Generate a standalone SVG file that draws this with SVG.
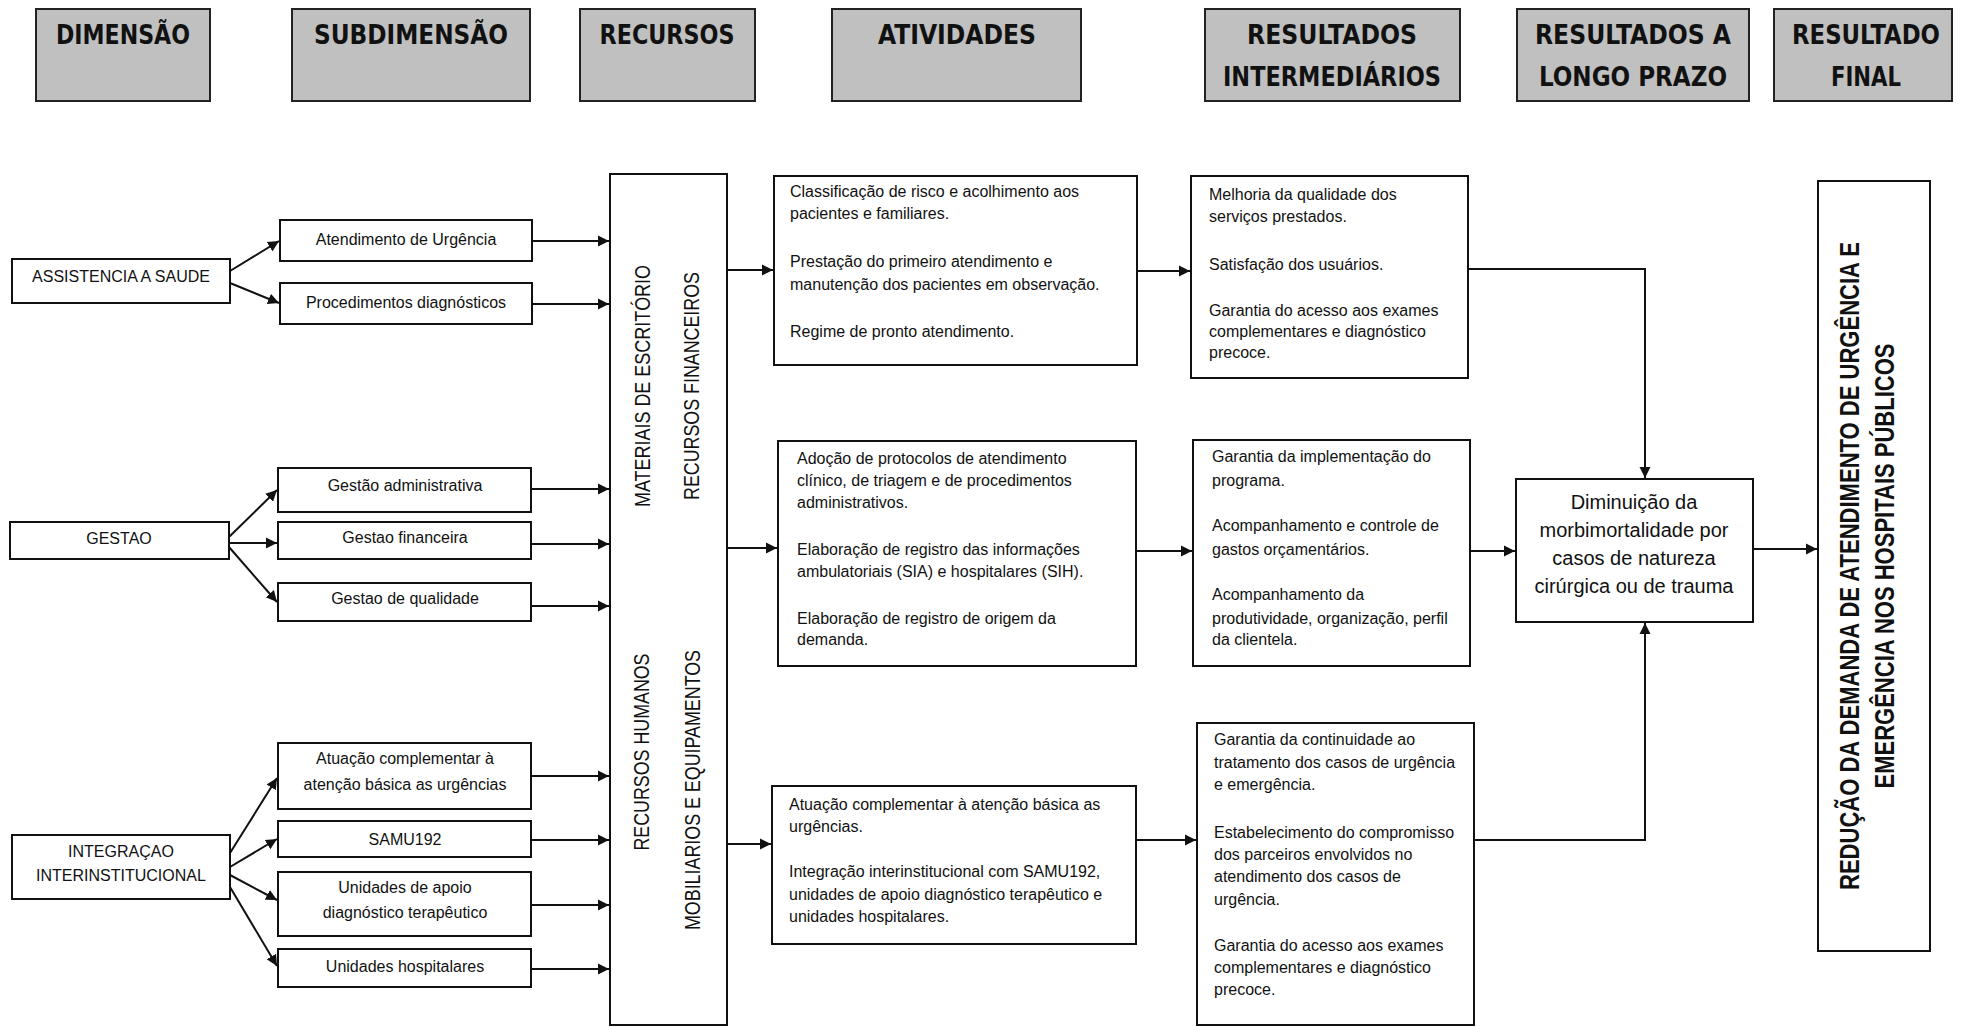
<svg xmlns="http://www.w3.org/2000/svg" width="1970" height="1027" viewBox="0 0 1970 1027">
<style>
.hdr{fill:#c0c0c0;stroke:#222;stroke-width:2}
.box{fill:#fff;stroke:#111;stroke-width:2}
.hd{font-family:"Liberation Sans Narrow","DejaVu Sans Condensed","Liberation Sans",sans-serif;font-weight:bold;font-size:27px;fill:#111;text-anchor:middle}
.t{font-family:"Liberation Sans",Arial,sans-serif;font-size:16px;fill:#111}
.c{text-anchor:middle}
.big{font-size:20px}
.v{font-family:"Liberation Sans",Arial,sans-serif;font-size:22px;fill:#111;text-anchor:middle}
.vb{font-family:"Liberation Sans",Arial,sans-serif;font-size:27px;font-weight:bold;fill:#111;text-anchor:middle}
.con line,.con polyline{stroke:#111;stroke-width:2;fill:none;marker-end:url(#ah)}
</style>
<defs>
<marker id="ah" viewBox="0 0 10 10" refX="10" refY="5" markerWidth="11" markerHeight="12" markerUnits="userSpaceOnUse" orient="auto">
<path d="M0,0 L10,5 L0,10 z" fill="#111"/>
</marker>
</defs>
<rect width="1970" height="1027" fill="#fff"/>

<!-- headers -->
<g id="h-dimensao"><rect class="hdr" x="36" y="9" width="174" height="92"/><text class="hd" x="123" y="44" textLength="134" lengthAdjust="spacingAndGlyphs">DIMENSÃO</text></g>
<g id="h-subdimensao"><rect class="hdr" x="292" y="9" width="238" height="92"/><text class="hd" x="411" y="44" textLength="194" lengthAdjust="spacingAndGlyphs">SUBDIMENSÃO</text></g>
<g id="h-recursos"><rect class="hdr" x="580" y="9" width="175" height="92"/><text class="hd" x="667" y="44" textLength="135" lengthAdjust="spacingAndGlyphs">RECURSOS</text></g>
<g id="h-atividades"><rect class="hdr" x="832" y="9" width="249" height="92"/><text class="hd" x="957" y="44" textLength="158" lengthAdjust="spacingAndGlyphs">ATIVIDADES</text></g>
<g id="h-intermediarios"><rect class="hdr" x="1205" y="9" width="255" height="92"/><text class="hd" x="1332" y="44" textLength="170" lengthAdjust="spacingAndGlyphs">RESULTADOS</text><text class="hd" x="1332" y="86" textLength="218" lengthAdjust="spacingAndGlyphs">INTERMEDIÁRIOS</text></g>
<g id="h-longoprazo"><rect class="hdr" x="1517" y="9" width="232" height="92"/><text class="hd" x="1633" y="44" textLength="196" lengthAdjust="spacingAndGlyphs">RESULTADOS A</text><text class="hd" x="1633" y="86" textLength="188" lengthAdjust="spacingAndGlyphs">LONGO PRAZO</text></g>
<g id="h-final"><rect class="hdr" x="1774" y="9" width="178" height="92"/><text class="hd" x="1866" y="44" textLength="148" lengthAdjust="spacingAndGlyphs">RESULTADO</text><text class="hd" x="1866" y="86" textLength="70" lengthAdjust="spacingAndGlyphs">FINAL</text></g>

<!-- dimensions -->
<g id="d-assistencia"><rect class="box" x="12" y="259" width="218" height="44"/><text class="t c" x="121" y="282">ASSISTENCIA A SAUDE</text></g>
<g id="d-gestao"><rect class="box" x="10" y="522" width="219" height="37"/><text class="t c" x="119" y="544">GESTAO</text></g>
<g id="d-integracao"><rect class="box" x="12" y="835" width="218" height="64"/><text class="t c" x="121" y="857">INTEGRAÇAO</text><text class="t c" x="121" y="881">INTERINSTITUCIONAL</text></g>

<!-- subdimensions -->
<g id="s-atendimento"><rect class="box" x="280" y="220" width="252" height="41"/><text class="t c" x="406" y="245">Atendimento de Urgência</text></g>
<g id="s-procedimentos"><rect class="box" x="280" y="283" width="252" height="41"/><text class="t c" x="406" y="308">Procedimentos diagnósticos</text></g>
<g id="s-gestao-adm"><rect class="box" x="278" y="468" width="253" height="44"/><text class="t c" x="405" y="491">Gestão administrativa</text></g>
<g id="s-gestao-fin"><rect class="box" x="278" y="522" width="253" height="37"/><text class="t c" x="405" y="543">Gestao financeira</text></g>
<g id="s-gestao-qual"><rect class="box" x="278" y="583" width="253" height="38"/><text class="t c" x="405" y="604">Gestao de qualidade</text></g>
<g id="s-atuacao"><rect class="box" x="278" y="743" width="253" height="66"/><text class="t c" x="405" y="764">Atuação complementar à</text><text class="t c" x="405" y="790">atenção básica as urgências</text></g>
<g id="s-samu"><rect class="box" x="278" y="821" width="253" height="36"/><text class="t c" x="405" y="845">SAMU192</text></g>
<g id="s-apoio"><rect class="box" x="278" y="872" width="253" height="64"/><text class="t c" x="405" y="893">Unidades de apoio</text><text class="t c" x="405" y="918">diagnóstico terapêutico</text></g>
<g id="s-hospitalares"><rect class="box" x="278" y="949" width="253" height="38"/><text class="t c" x="405" y="972">Unidades hospitalares</text></g>

<!-- recursos -->
<g id="recursos"><rect class="box" x="610" y="174" width="117" height="851"/>
<text class="v" transform="translate(650,386) rotate(-90)" textLength="242" lengthAdjust="spacingAndGlyphs">MATERIAIS DE ESCRITÓRIO</text>
<text class="v" transform="translate(699,386) rotate(-90)" textLength="228" lengthAdjust="spacingAndGlyphs">RECURSOS FINANCEIROS</text>
<text class="v" transform="translate(649,752) rotate(-90)" textLength="197" lengthAdjust="spacingAndGlyphs">RECURSOS HUMANOS</text>
<text class="v" transform="translate(700,790) rotate(-90)" textLength="280" lengthAdjust="spacingAndGlyphs">MOBILIARIOS E EQUIPAMENTOS</text>
</g>

<!-- activities -->
<g id="a1"><rect class="box" x="774" y="176" width="363" height="189"/>
<text class="t" x="790" y="197">Classificação de risco e acolhimento aos</text>
<text class="t" x="790" y="219">pacientes e familiares.</text>
<text class="t" x="790" y="267">Prestação do primeiro atendimento e</text>
<text class="t" x="790" y="290">manutenção dos pacientes em observação.</text>
<text class="t" x="790" y="337">Regime de pronto atendimento.</text>
</g>
<g id="a2"><rect class="box" x="778" y="441" width="358" height="225"/>
<text class="t" x="797" y="464">Adoção de protocolos de atendimento</text>
<text class="t" x="797" y="486">clínico, de triagem e de procedimentos</text>
<text class="t" x="797" y="508">administrativos.</text>
<text class="t" x="797" y="555">Elaboração de registro das informações</text>
<text class="t" x="797" y="577">ambulatoriais (SIA) e hospitalares (SIH).</text>
<text class="t" x="797" y="624">Elaboração de registro de origem da</text>
<text class="t" x="797" y="645">demanda.</text>
</g>
<g id="a3"><rect class="box" x="772" y="786" width="364" height="158"/>
<text class="t" x="789" y="810">Atuação complementar à atenção básica as</text>
<text class="t" x="789" y="832">urgências.</text>
<text class="t" x="789" y="877">Integração interinstitucional com SAMU192,</text>
<text class="t" x="789" y="900">unidades de apoio diagnóstico terapêutico e</text>
<text class="t" x="789" y="922">unidades hospitalares.</text>
</g>

<!-- intermediate results -->
<g id="r1"><rect class="box" x="1191" y="176" width="277" height="202"/>
<text class="t" x="1209" y="200">Melhoria da qualidade dos</text>
<text class="t" x="1209" y="222">serviços prestados.</text>
<text class="t" x="1209" y="270">Satisfação dos usuários.</text>
<text class="t" x="1209" y="316">Garantia do acesso aos exames</text>
<text class="t" x="1209" y="337">complementares e diagnóstico</text>
<text class="t" x="1209" y="358">precoce.</text>
</g>
<g id="r2"><rect class="box" x="1193" y="440" width="277" height="226"/>
<text class="t" x="1212" y="462">Garantia da implementação do</text>
<text class="t" x="1212" y="486">programa.</text>
<text class="t" x="1212" y="531">Acompanhamento e controle de</text>
<text class="t" x="1212" y="555">gastos orçamentários.</text>
<text class="t" x="1212" y="600">Acompanhamento da</text>
<text class="t" x="1212" y="624">produtividade, organização, perfil</text>
<text class="t" x="1212" y="645">da clientela.</text>
</g>
<g id="r3"><rect class="box" x="1197" y="723" width="277" height="302"/>
<text class="t" x="1214" y="745">Garantia da continuidade ao</text>
<text class="t" x="1214" y="768">tratamento dos casos de urgência</text>
<text class="t" x="1214" y="790">e emergência.</text>
<text class="t" x="1214" y="838">Estabelecimento do compromisso</text>
<text class="t" x="1214" y="860">dos parceiros envolvidos no</text>
<text class="t" x="1214" y="882">atendimento dos casos de</text>
<text class="t" x="1214" y="905">urgência.</text>
<text class="t" x="1214" y="951">Garantia do acesso aos exames</text>
<text class="t" x="1214" y="973">complementares e diagnóstico</text>
<text class="t" x="1214" y="995">precoce.</text>
</g>

<!-- long term -->
<g id="longo"><rect class="box" x="1516" y="479" width="237" height="143"/>
<text class="t c big" x="1634" y="509">Diminuição da</text>
<text class="t c big" x="1634" y="537">morbimortalidade por</text>
<text class="t c big" x="1634" y="565">casos de natureza</text>
<text class="t c big" x="1634" y="593">cirúrgica ou de trauma</text>
</g>

<!-- final -->
<g id="final"><rect class="box" x="1818" y="181" width="112" height="770"/>
<text class="vb" transform="translate(1859,566) rotate(-90)" textLength="648" lengthAdjust="spacingAndGlyphs">REDUÇÃO DA DEMANDA DE ATENDIMENTO DE URGÊNCIA E</text>
<text class="vb" transform="translate(1894,566) rotate(-90)" textLength="445" lengthAdjust="spacingAndGlyphs">EMERGÊNCIA NOS HOSPITAIS PÚBLICOS</text>
</g>

<!-- connectors -->
<g class="con" id="connectors">
<line x1="230" y1="271" x2="279" y2="241"/>
<line x1="230" y1="283" x2="279" y2="303"/>
<line x1="229" y1="537" x2="277" y2="490"/>
<line x1="229" y1="543" x2="277" y2="543"/>
<line x1="229" y1="547" x2="277" y2="602"/>
<line x1="230" y1="853" x2="277" y2="778"/>
<line x1="230" y1="867" x2="277" y2="839"/>
<line x1="230" y1="875" x2="277" y2="900"/>
<line x1="230" y1="887" x2="277" y2="966"/>
<line x1="532" y1="241" x2="609" y2="241"/>
<line x1="532" y1="304" x2="609" y2="304"/>
<line x1="531" y1="489" x2="609" y2="489"/>
<line x1="531" y1="544" x2="609" y2="544"/>
<line x1="531" y1="606" x2="609" y2="606"/>
<line x1="531" y1="776" x2="609" y2="776"/>
<line x1="531" y1="840" x2="609" y2="840"/>
<line x1="531" y1="905" x2="609" y2="905"/>
<line x1="531" y1="969" x2="609" y2="969"/>
<line x1="727" y1="270" x2="773" y2="270"/>
<line x1="727" y1="548" x2="777" y2="548"/>
<line x1="727" y1="844" x2="771" y2="844"/>
<line x1="1137" y1="271" x2="1190" y2="271"/>
<line x1="1136" y1="551" x2="1192" y2="551"/>
<line x1="1136" y1="840" x2="1196" y2="840"/>
<polyline points="1468,269 1645,269 1645,478"/>
<line x1="1470" y1="551" x2="1515" y2="551"/>
<polyline points="1474,840 1645,840 1645,623"/>
<line x1="1753" y1="549" x2="1817" y2="549"/>
</g>
</svg>
